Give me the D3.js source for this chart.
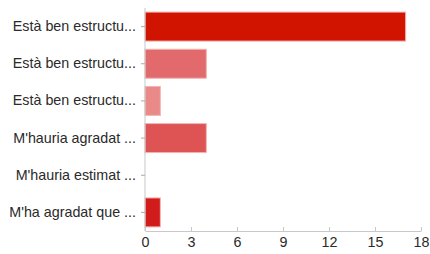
<!DOCTYPE html>
<html><head><meta charset="utf-8">
<script src="https://cdn.jsdelivr.net/npm/d3@7"></script>
<style>body{margin:0;background:#fff;} svg{display:block;}</style>
</head><body>
<script>
const categories = ["Està ben estructu...","Està ben estructu...","Està ben estructu...","M'hauria agradat ...","M'hauria estimat ...","M'ha agradat que ..."];
const values = [17, 4, 1, 4, 0, 1];
const colors = ["#d01400","#e26a6c","#e98a88","#de5353","#d8a0a0","#d21c1c"];
const xTicks = [0,3,6,9,12,15,18];

const W=430,H=254;
const svg=d3.select("body").append("svg").attr("width",W).attr("height",H);
const x=d3.scaleLinear().domain([0,18]).range([145,421]);
const y=d3.scaleBand().domain(d3.range(categories.length)).range([8,231]).paddingInner(0.22).paddingOuter(0.11);

svg.selectAll("rect.bar").data(values).join("rect").attr("class","bar")
  .attr("x",x(0)).attr("y",(d,i)=>y(i)).attr("width",d=>x(d)-x(0)).attr("height",y.bandwidth())
  .attr("fill",(d,i)=>colors[i]).attr("stroke",(d,i)=>d>0?"#f4b4b4":"none").attr("stroke-width",1)
  .style("display",d=>d>0?null:"none");

// y axis
const yAxis=svg.append("g").attr("transform",`translate(${x(0)},0)`)
  .call(d3.axisLeft(y).tickFormat(i=>categories[i]).tickSize(4).tickSizeOuter(0));
yAxis.select(".domain").attr("stroke","#c8c8c8").attr("d","M0,8V231");
yAxis.selectAll(".tick line").attr("stroke","#aaa");
yAxis.selectAll("text").attr("font-family","Liberation Sans, Arial, sans-serif").attr("font-size","14.3px").attr("fill","#2a2a2a").attr("dx","-2");

// x axis
const xAxis=svg.append("g").attr("transform","translate(0,231)")
  .call(d3.axisBottom(x).tickValues(xTicks).tickSize(-4).tickSizeOuter(0).tickPadding(6));
xAxis.select(".domain").attr("stroke","#c8c8c8");
xAxis.selectAll(".tick line").attr("stroke","#c8c8c8");
xAxis.selectAll("text").attr("font-family","Liberation Sans, Arial, sans-serif").attr("font-size","14.3px").attr("fill","#2a2a2a");
</script>
</body></html>
